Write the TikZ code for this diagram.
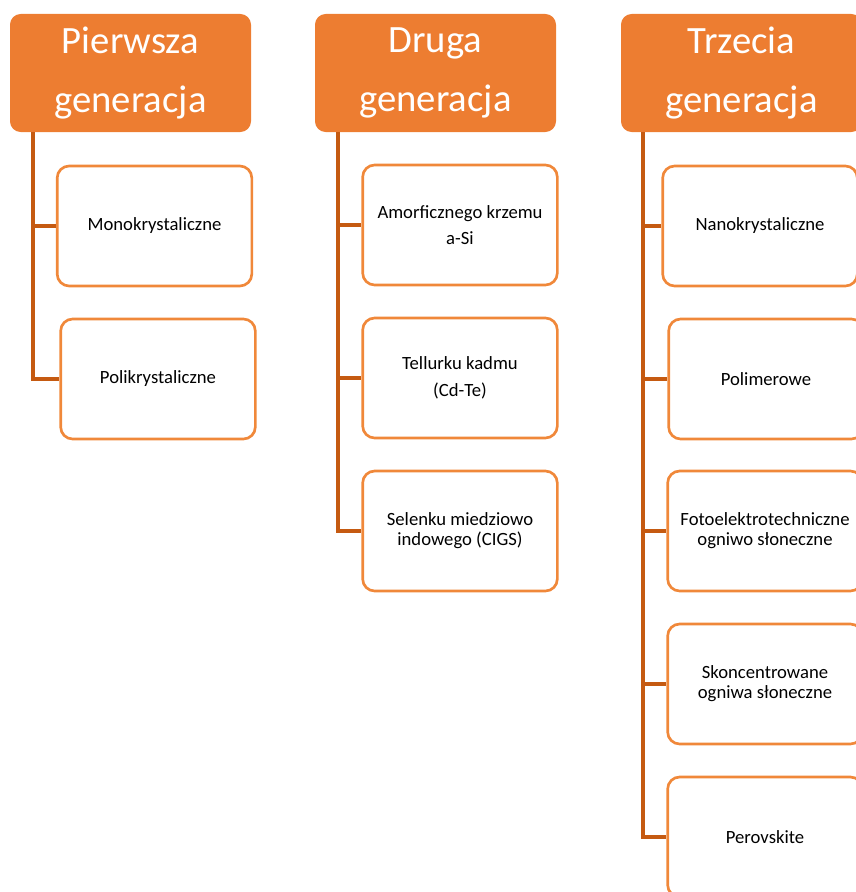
\documentclass[tikz,border=0pt]{standalone}
\usepackage{fontspec}
\setmainfont{Carlito}
\definecolor{pomarancz}{HTML}{ED7D31}
\definecolor{ramka}{HTML}{F0883A}
\definecolor{linia}{HTML}{C55A11}
\tikzset{
	naglowek/.style={fill=pomarancz,rounded corners=8pt,text=white,align=center,inner sep=0,minimum width=180.75pt,minimum height=88.5pt,font=\fontsize{29}{44}\selectfont},
	pole/.style={draw=ramka,line width=2pt,fill=white,rounded corners=9pt,align=center,inner sep=0,minimum width=146pt,minimum height=90pt,font=\fontsize{14}{20}\selectfont},
	ciasne/.style={font=\fontsize{14}{15}\selectfont},
	galaz/.style={draw=linia,line width=2.4pt}
}
\begin{document}
\begin{tikzpicture}[x=0.75pt,y=-0.75pt]
	\useasboundingbox (0,0) rectangle (856,892);
	\clip (0,0) rectangle (856,892);
	\node[naglowek] (gen1) at (130.5,73) {Pierwsza\\generacja};
	\node[naglowek] (gen2) at (435.5,73) {Druga\\generacja};
	\node[naglowek] (gen3) at (741.5,73) {Trzecia\\generacja};
	\coordinate (pien1) at (33,132);
	\coordinate (pien2) at (338,132);
	\coordinate (pien3) at (643,132);
	\node[pole] (mono) at (154.5,226) {Monokrystaliczne};
	\node[pole] (poli) at (158,379) {Polikrystaliczne};
	\node[pole] (amorf) at (460,225) {Amorficznego krzemu\\a-Si};
	\node[pole] (tellur) at (460,378) {Tellurku kadmu\\(Cd-Te)};
	\node[pole,ciasne] (cigs) at (460,531) {Selenku miedziowo\\indowego (CIGS)};
	\node[pole] (nano) at (760,226) {Nanokrystaliczne};
	\node[pole] (polimer) at (766,379) {Polimerowe};
	\node[pole,ciasne] (foto) at (765,531) {Fotoelektrotechniczne\\ogniwo słoneczne};
	\node[pole,ciasne] (skonc) at (765,684) {Skoncentrowane\\ogniwa słoneczne};
	\node[pole] (perov) at (765,837) {Perovskite};
	\foreach \cel in {mono,poli}
		\draw[galaz] (pien1) |- (\cel.west);
	\foreach \cel in {amorf,tellur,cigs}
		\draw[galaz] (pien2) |- (\cel.west);
	\foreach \cel in {nano,polimer,foto,skonc,perov}
		\draw[galaz] (pien3) |- (\cel.west);
\end{tikzpicture}
\end{document}
